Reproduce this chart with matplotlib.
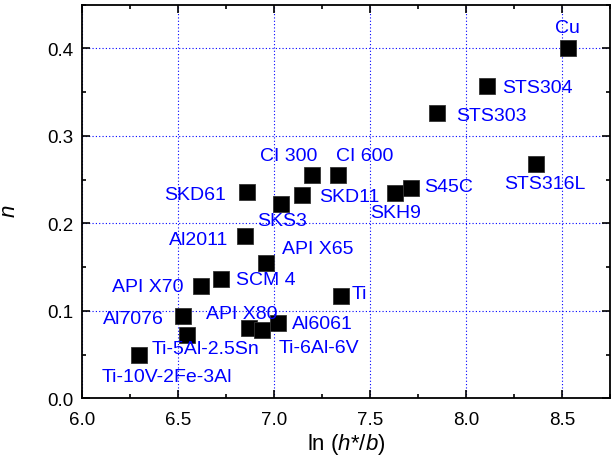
import matplotlib
matplotlib.use("Agg")
import matplotlib.pyplot as plt
from matplotlib.ticker import MultipleLocator

plt.rcParams['font.family'] = ['Liberation Sans', 'DejaVu Sans']
plt.rcParams['mathtext.fontset'] = 'custom'
plt.rcParams['mathtext.rm'] = 'Liberation Sans'
plt.rcParams['mathtext.it'] = 'Liberation Sans:italic'

materials = ["Cu", "STS304", "STS303", "STS316L", "S45C", "SKH9", "CI 600", "CI 300",
             "SKD11", "SKS3", "SKD61", "Al2011", "API X65", "SCM 4", "API X70", "Ti",
             "Al7076", "Ti-5Al-2.5Sn", "API X80", "Ti-6Al-6V", "Al6061", "Ti-10V-2Fe-3Al"]
ln_hb = [8.53, 8.107, 7.85, 8.363, 7.711, 7.63, 7.334, 7.197,
         7.145, 7.037, 6.857, 6.847, 6.956, 6.725, 6.618, 7.349,
         6.524, 6.548, 6.871, 6.94, 7.019, 6.298]
n_vals = [0.401, 0.357, 0.326, 0.268, 0.241, 0.235, 0.255, 0.255,
          0.232, 0.222, 0.236, 0.185, 0.155, 0.136, 0.128, 0.117,
          0.094, 0.072, 0.080, 0.078, 0.086, 0.050]

# label placement: (dx px, dy px, ha, va)
label_pos = {
    "Cu": (0, 20, "center", "center"),
    "STS304": (16, -1, "left", "center"),
    "STS303": (19, -2, "left", "center"),
    "STS316L": (9, -20, "center", "center"),
    "S45C": (14, 1, "left", "center"),
    "SKH9": (1, -20, "center", "center"),
    "CI 600": (-2, 20, "left", "center"),
    "CI 300": (-23, 20, "center", "center"),
    "SKD11": (17, -1, "left", "center"),
    "SKS3": (1, -16, "center", "center"),
    "SKD61": (-21, -3, "right", "center"),
    "Al2011": (-16, -3, "right", "center"),
    "API X65": (16, 14, "left", "center"),
    "SCM 4": (15, 0, "left", "center"),
    "API X70": (-17, 0, "right", "center"),
    "Ti": (11, 2, "left", "center"),
    "Al7076": (-19, -2, "right", "center"),
    "Ti-5Al-2.5Sn": (18, -13, "center", "center"),
    "API X80": (-7, 15, "center", "center"),
    "Ti-6Al-6V": (16, -17, "left", "center"),
    "Al6061": (14, 0, "left", "center"),
    "Ti-10V-2Fe-3Al": (28, -22, "center", "center"),
}

dpi = 100
fig = plt.figure(figsize=(6.14, 4.64), dpi=dpi)
ax = fig.add_axes([82/614, (464-399.3)/464, (610-82)/614, (399.3-5.7)/464])

ax.grid(True, which='major', color='#0000ff', linestyle=(0, (1, 2)), linewidth=0.8)
ax.set_axisbelow(True)

ax.plot(ln_hb, n_vals, linestyle='none', marker='s', markersize=11,
        markerfacecolor='black', markeredgecolor='#333333', markeredgewidth=0.6, zorder=3)

px2pt = 72.0 / dpi
for name, x, y in zip(materials, ln_hb, n_vals):
    dx, dy, ha, va = label_pos[name]
    ax.annotate(name, (x, y), xytext=(dx * px2pt, dy * px2pt), textcoords='offset points',
                ha=ha, va=va, color='#0000ff', fontsize=14, zorder=4)

ax.set_xlim(6.0, 8.75)
ax.set_ylim(0.0, 0.45)
ax.xaxis.set_major_locator(MultipleLocator(0.5))
ax.xaxis.set_minor_locator(MultipleLocator(0.25))
ax.yaxis.set_major_locator(MultipleLocator(0.1))
ax.yaxis.set_minor_locator(MultipleLocator(0.05))
ax.xaxis.set_major_formatter(matplotlib.ticker.FormatStrFormatter('%.1f'))
ax.yaxis.set_major_formatter(matplotlib.ticker.FormatStrFormatter('%.1f'))

ax.tick_params(which='both', direction='in', top=True, right=True, width=1.2)
ax.tick_params(which='major', length=6, labelsize=13.5)
ax.tick_params(axis='x', which='major', pad=9)
ax.tick_params(axis='y', which='major', pad=6)
ax.tick_params(which='minor', length=3)
for s in ax.spines.values():
    s.set_linewidth(1.3)

ax.set_xlabel(r'ln ($h$*/$b$)', fontsize=16, labelpad=2)
ax.set_ylabel(r'$n$', fontsize=16)
ax.yaxis.set_label_coords(-0.117, 0.477)

fig.savefig('out.png', dpi=dpi)
